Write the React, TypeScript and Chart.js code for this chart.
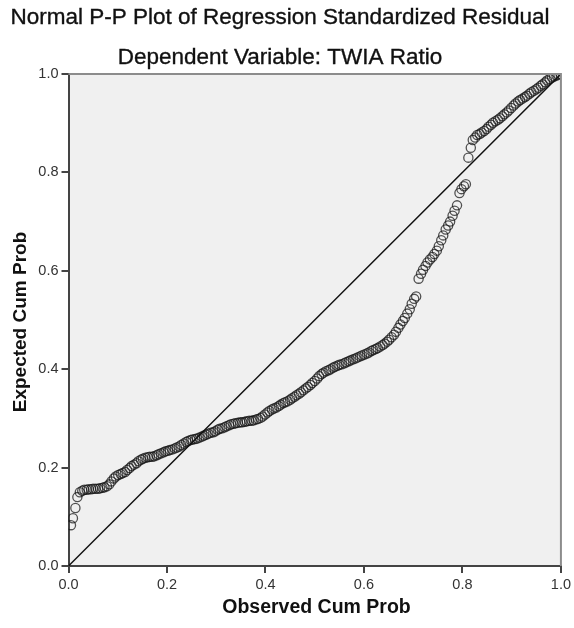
import React, { useEffect, useRef } from "react";
import { Chart, registerables } from "chart.js";

Chart.register(...registerables);

const titleText = "Normal P-P Plot of Regression Standardized Residual";
const subtitleText = "Dependent Variable: TWIA Ratio";
const xTitle = "Observed Cum Prob";
const yTitle = "Expected Cum Prob";
const tickValues = [0, 0.2, 0.4, 0.6, 0.8, 1.0];
const refLine = [0, 1];

const observed = [
  0.005, 0.009, 0.014, 0.018, 0.023, 0.028, 0.032, 0.037, 0.041, 0.046,
  0.050, 0.055, 0.060, 0.064, 0.069, 0.073, 0.078, 0.083, 0.087, 0.092,
  0.096, 0.101, 0.106, 0.110, 0.115, 0.119, 0.124, 0.128, 0.133, 0.138,
  0.142, 0.147, 0.151, 0.156, 0.161, 0.165, 0.170, 0.174, 0.179, 0.183,
  0.188, 0.193, 0.197, 0.202, 0.206, 0.211, 0.216, 0.220, 0.225, 0.229,
  0.234, 0.239, 0.243, 0.248, 0.252, 0.257, 0.261, 0.266, 0.271, 0.275,
  0.280, 0.284, 0.289, 0.294, 0.298, 0.303, 0.307, 0.312, 0.317, 0.321,
  0.326, 0.330, 0.335, 0.339, 0.344, 0.349, 0.353, 0.358, 0.362, 0.367,
  0.372, 0.376, 0.381, 0.385, 0.390, 0.394, 0.399, 0.404, 0.408, 0.413,
  0.417, 0.422, 0.427, 0.431, 0.436, 0.440, 0.445, 0.450, 0.454, 0.459,
  0.463, 0.468, 0.472, 0.477, 0.482, 0.486, 0.491, 0.495, 0.500, 0.505,
  0.509, 0.514, 0.518, 0.523, 0.528, 0.532, 0.537, 0.541, 0.546, 0.550,
  0.555, 0.560, 0.564, 0.569, 0.573, 0.578, 0.583, 0.587, 0.592, 0.596,
  0.601, 0.606, 0.610, 0.615, 0.619, 0.624, 0.628, 0.633, 0.638, 0.642,
  0.647, 0.651, 0.656, 0.661, 0.665, 0.670, 0.674, 0.679, 0.683, 0.688,
  0.693, 0.697, 0.702, 0.706, 0.711, 0.716, 0.720, 0.725, 0.729, 0.734,
  0.739, 0.743, 0.748, 0.752, 0.757, 0.761, 0.766, 0.771, 0.775, 0.780,
  0.784, 0.789, 0.794, 0.798, 0.803, 0.807, 0.812, 0.817, 0.821, 0.826,
  0.830, 0.835, 0.839, 0.844, 0.849, 0.853, 0.858, 0.862, 0.867, 0.872,
  0.876, 0.881, 0.885, 0.890, 0.894, 0.899, 0.904, 0.908, 0.913, 0.917,
  0.922, 0.927, 0.931, 0.936, 0.940, 0.945, 0.950, 0.954, 0.959, 0.963,
  0.968, 0.972, 0.977, 0.982, 0.986, 0.991, 0.995, 1.000,
];

const expected = [
  0.083, 0.097, 0.118, 0.140, 0.150, 0.153, 0.155, 0.155, 0.156, 0.156,
  0.157, 0.157, 0.157, 0.158, 0.159, 0.160, 0.162, 0.166, 0.172, 0.178,
  0.182, 0.185, 0.187, 0.189, 0.191, 0.195, 0.199, 0.203, 0.206, 0.209,
  0.213, 0.216, 0.218, 0.220, 0.221, 0.222, 0.222, 0.223, 0.225, 0.227,
  0.229, 0.231, 0.233, 0.234, 0.236, 0.237, 0.239, 0.241, 0.243, 0.246,
  0.249, 0.252, 0.254, 0.256, 0.257, 0.258, 0.259, 0.261, 0.263, 0.265,
  0.267, 0.269, 0.271, 0.272, 0.274, 0.277, 0.279, 0.280, 0.282, 0.284,
  0.286, 0.288, 0.289, 0.290, 0.291, 0.292, 0.292, 0.293, 0.294, 0.295,
  0.295, 0.296, 0.298, 0.299, 0.301, 0.304, 0.308, 0.312, 0.315, 0.318,
  0.320, 0.322, 0.325, 0.328, 0.331, 0.333, 0.335, 0.338, 0.341, 0.344,
  0.347, 0.350, 0.353, 0.357, 0.361, 0.364, 0.368, 0.372, 0.376, 0.381,
  0.386, 0.390, 0.393, 0.396, 0.398, 0.400, 0.403, 0.405, 0.407, 0.409,
  0.410, 0.412, 0.414, 0.416, 0.418, 0.420, 0.422, 0.424, 0.426, 0.428,
  0.430, 0.432, 0.434, 0.437, 0.439, 0.441, 0.443, 0.446, 0.449, 0.452,
  0.456, 0.460, 0.465, 0.470, 0.476, 0.484, 0.491, 0.498, 0.504, 0.513,
  0.522, 0.533, 0.543, 0.548, 0.584, 0.594, 0.602, 0.610, 0.617, 0.623,
  0.628, 0.634, 0.641, 0.650, 0.662, 0.672, 0.684, 0.692, 0.700, 0.712,
  0.722, 0.733, 0.758, 0.766, 0.772, 0.776, 0.830, 0.850, 0.866, 0.871,
  0.876, 0.878, 0.881, 0.884, 0.888, 0.893, 0.897, 0.901, 0.904, 0.907,
  0.910, 0.914, 0.918, 0.922, 0.926, 0.931, 0.936, 0.940, 0.944, 0.947,
  0.950, 0.953, 0.956, 0.960, 0.963, 0.966, 0.969, 0.972, 0.976, 0.979,
  0.983, 0.987, 0.990, 0.993, 0.995, 0.997, 0.999, 1.000,
];

const FONT = "'Liberation Sans', Arial, sans-serif";

const decorPlugin = {
  id: "decor",
  beforeDraw(chart: any) {
    const { ctx, chartArea } = chart;
    ctx.save();
    ctx.fillStyle = "#ffffff";
    ctx.fillRect(0, 0, chart.width, chart.height);
    ctx.fillStyle = "#f0f0f0";
    ctx.fillRect(chartArea.left, chartArea.top, chartArea.right - chartArea.left, chartArea.bottom - chartArea.top);
    ctx.restore();
  },
  afterDraw(chart: any) {
    const { ctx, chartArea } = chart;
    ctx.save();
    ctx.strokeStyle = "#8c8c8c";
    ctx.lineWidth = 2;
    ctx.beginPath();
    ctx.moveTo(chartArea.left, chartArea.top);
    ctx.lineTo(chartArea.right, chartArea.top);
    ctx.lineTo(chartArea.right, chartArea.bottom);
    ctx.stroke();
    ctx.fillStyle = "#111111";
    ctx.strokeStyle = "#111111";
    ctx.lineWidth = 0.35;
    ctx.textAlign = "center";
    ctx.textBaseline = "middle";
    ctx.font = `22.5px ${FONT}`;
    ctx.fillText(titleText, 280, 18);
    ctx.strokeText(titleText, 280, 18);
    ctx.fillText(subtitleText, 280, 58);
    ctx.strokeText(subtitleText, 280, 58);
    ctx.font = `bold 19.5px ${FONT}`;
    ctx.fillText(xTitle, 316.5, 608);
    ctx.translate(21, 322);
    ctx.rotate(-Math.PI / 2);
    ctx.font = `bold 19px ${FONT}`;
    ctx.fillText(yTitle, 0, 0);
    ctx.restore();
  },
};

export default function App() {
  const ref = useRef<HTMLCanvasElement>(null);
  useEffect(() => {
    document.body.style.margin = "0";
    const canvas = ref.current!;
    const n = Math.min(observed.length, expected.length);
    const points = observed.slice(0, n).map((x, i) => ({ x, y: expected[i] }));
    const line = refLine.map((v) => ({ x: v, y: v }));
    const axisCommon = {
      type: "linear" as const,
      min: 0,
      max: 1,
      afterBuildTicks(scale: any) {
        scale.ticks = tickValues.map((v) => ({ value: v }));
      },
      ticks: {
        color: "#333333",
        font: { family: FONT, size: 14.5 },
        padding: 3,
        callback: (v: any) => Number(v).toFixed(1),
      },
      grid: {
        drawOnChartArea: false,
        drawTicks: true,
        tickLength: 7,
        color: "#444444",
        lineWidth: 2,
      },
      border: { display: true, color: "#444444", width: 2 },
    };
    const chart = new Chart(canvas, {
      type: "scatter",
      data: {
        datasets: [
          {
            label: "Residual",
            data: points,
            pointStyle: "circle",
            pointRadius: 4.6,
            pointBorderWidth: 1.3,
            pointBackgroundColor: "rgba(0,0,0,0)",
            pointBorderColor: "rgba(20,20,20,0.72)",
            order: 1,
          },
          {
            label: "Reference",
            data: line,
            showLine: true,
            pointRadius: 0,
            borderColor: "#111111",
            borderWidth: 1.4,
            order: 0,
          } as any,
        ],
      },
      options: {
        animation: false,
        responsive: false,
        maintainAspectRatio: false,
        layout: { padding: { top: 74, right: 12, bottom: 32, left: 20 } },
        plugins: {
          legend: { display: false },
          tooltip: { enabled: false },
          title: { display: false },
        },
        scales: {
          x: {
            ...axisCommon,
            afterFit(scale: any) {
              scale.height = 30;
            },
          },
          y: {
            ...axisCommon,
            afterFit(scale: any) {
              scale.width = 48.5;
            },
          },
        } as any,
      },
      plugins: [decorPlugin],
    });
    return () => chart.destroy();
  }, []);
  return (
    <div style={{ width: 574, height: 628 }}>
      <canvas ref={ref} width={574} height={628} style={{ display: "block" }} />
    </div>
  );
}
